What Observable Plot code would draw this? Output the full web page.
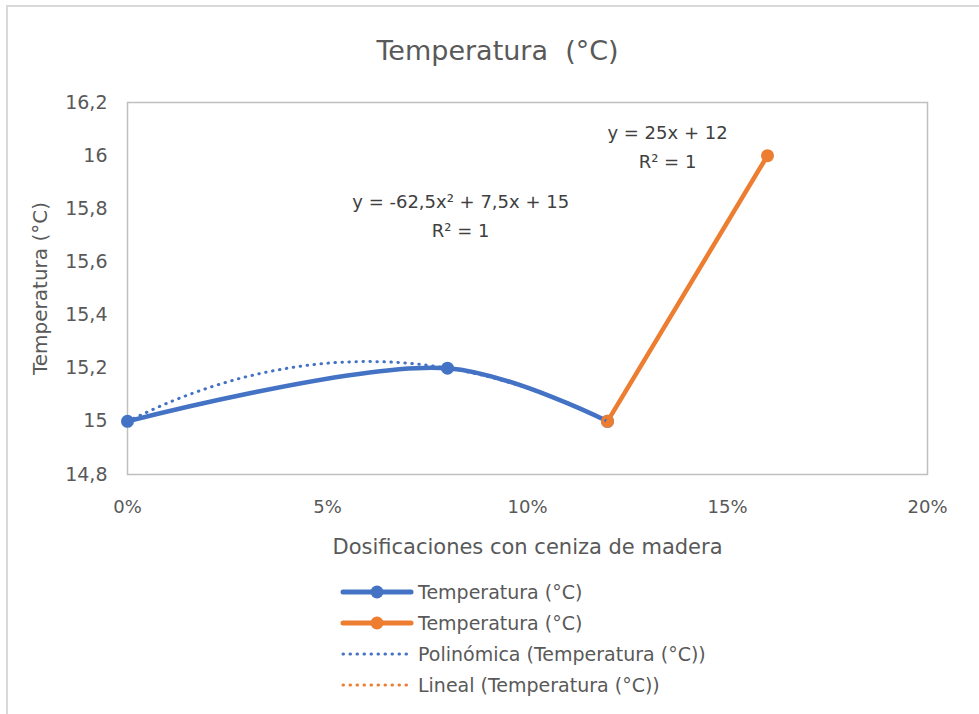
<!DOCTYPE html>
<html>
<head>
<meta charset="utf-8">
<script src="https://cdn.jsdelivr.net/npm/d3@7"></script>
<script src="https://cdn.jsdelivr.net/npm/@observablehq/plot@0.6"></script>
<style>
  html, body { margin: 0; padding: 0; background: #fff; }
  #wrap { position: relative; width: 979px; height: 714px; overflow: hidden; font-family: "DejaVu Sans", sans-serif; }
  #border { position: absolute; left: 6px; top: 5px; width: 1000px; height: 800px; border-top: 2px solid #d9d9d9; border-left: 2px solid #d9d9d9; }
  #chart { position: absolute; left: 0; top: 0; }
  #legend { position: absolute; left: 340px; top: 576px; }
  .row { display: flex; align-items: center; height: 31px; }
  .row span { font-size: 19px; color: #595959; margin-left: 4px; white-space: nowrap; }
</style>
</head>
<body>
<div id="wrap">
  <div id="border"></div>
  <div id="chart"></div>
  <div id="legend"></div>
</div>
<script>
// ---- data ----
const doses = [0, 0.08, 0.12];
const temps = [15, 15.2, 15];
const doses2 = [0.12, 0.16];
const temps2 = [15, 16];
// polynomial trendline points
const polyDoses = [0, 0.01, 0.02, 0.03, 0.04, 0.05, 0.06, 0.07, 0.08, 0.09, 0.10, 0.11, 0.12];
const polyTemps = [15, 15.069, 15.125, 15.169, 15.2, 15.219, 15.225, 15.219, 15.2, 15.169, 15.125, 15.069, 15];
// linear trendline endpoints
const linDoses = [0.12, 0.16];
const linTemps = [15, 16];

const xTicks = [0, 0.05, 0.10, 0.15, 0.20];
const xTickLabels = ["0%", "5%", "10%", "15%", "20%"];
const yTicks = [14.8, 15, 15.2, 15.4, 15.6, 15.8, 16, 16.2];
const yTickLabels = ["14,8", "15", "15,2", "15,4", "15,6", "15,8", "16", "16,2"];

const chartTitle = "Temperatura  (°C)";
const xTitle = "Dosificaciones con ceniza de madera";
const yTitle = "Temperatura (°C)";
const polyEq = "y = -62,5x² + 7,5x + 15\nR² = 1";
const linEq = "y = 25x + 12\nR² = 1";
const seriesNames = ["Temperatura (°C)", "Temperatura (°C)", "Polinómica (Temperatura (°C))", "Lineal (Temperatura (°C))"];

const blue = "#4472C4";
const orange = "#ED7D31";

const s1 = doses.map((d, i) => ({x: d, y: temps[i]}));
const s2 = doses2.map((d, i) => ({x: d, y: temps2[i]}));
const poly = polyDoses.map((d, i) => ({x: d, y: polyTemps[i]}));
const lin = linDoses.map((d, i) => ({x: d, y: linTemps[i]}));

const chart = Plot.plot({
  width: 979,
  height: 570,
  marginLeft: 127,
  marginRight: 52,
  marginTop: 102,
  marginBottom: 96,
  style: {fontFamily: "'DejaVu Sans', sans-serif", background: "transparent"},
  x: {domain: [0, 0.2]},
  y: {domain: [14.8, 16.2]},
  marks: [
    Plot.frame({stroke: "#bfbfbf", strokeWidth: 1.5}),
    Plot.axisX({ticks: xTicks, tickFormat: (d) => xTickLabels[xTicks.findIndex(t => Math.abs(t - d) < 1e-9)], tickSize: 0, tickPadding: 26, fontSize: 18, color: "#595959", label: null}),
    Plot.axisY({ticks: yTicks, tickFormat: (d) => yTickLabels[yTicks.findIndex(t => Math.abs(t - d) < 1e-9)], tickSize: 0, tickPadding: 20, fontSize: 19, color: "#595959", label: null}),
    Plot.text([chartTitle], {frameAnchor: "top", dy: -62, dx: -30, fontSize: 27, fill: "#595959", letterSpacing: "1.3px"}),
    Plot.text([xTitle], {frameAnchor: "bottom", dy: 79, fontSize: 21, fill: "#595959"}),
    Plot.text([yTitle], {frameAnchor: "left", textAnchor: "middle", dx: -87, rotate: -90, fontSize: 20, fill: "#595959"}),
    Plot.line(s1, {x: "x", y: "y", stroke: blue, strokeWidth: 4.5, curve: "catmull-rom"}),
    Plot.dot(s1, {x: "x", y: "y", r: 6.5, fill: blue}),
    Plot.line(s2, {x: "x", y: "y", stroke: orange, strokeWidth: 4.5}),
    Plot.dot(s2, {x: "x", y: "y", r: 6.5, fill: orange}),
    Plot.line(poly, {x: "x", y: "y", stroke: blue, strokeWidth: 3, strokeDasharray: "0.5,6.5", strokeLinecap: "round", curve: "catmull-rom"}),
    Plot.line(lin, {x: "x", y: "y", stroke: orange, strokeWidth: 3, strokeDasharray: "0.5,6.5", strokeLinecap: "round"}),
    Plot.text([polyEq], {x: 0.0833, y: 15.782, fontSize: 18, fill: "#404040", lineHeight: 1.6}),
    Plot.text([linEq], {x: 0.135, y: 16.042, fontSize: 18, fill: "#404040", lineHeight: 1.6})
  ]
});
document.getElementById("chart").appendChild(chart);

// legend
const legendStyles = [
  {color: blue, dash: null, marker: true, width: 5},
  {color: orange, dash: null, marker: true, width: 5},
  {color: blue, dash: "0.5,6.5", marker: false, width: 3},
  {color: orange, dash: "0.5,6.5", marker: false, width: 3}
];
const legend = document.getElementById("legend");
seriesNames.forEach((name, i) => {
  const st = legendStyles[i];
  const row = document.createElement("div");
  row.className = "row";
  const svg = d3.create("svg").attr("width", 74).attr("height", 20);
  svg.append("line").attr("x1", 3).attr("x2", 71).attr("y1", 10).attr("y2", 10)
    .attr("stroke", st.color).attr("stroke-width", st.width).attr("stroke-linecap", "round")
    .attr("stroke-dasharray", st.dash);
  if (st.marker) svg.append("circle").attr("cx", 37).attr("cy", 10).attr("r", 6.5).attr("fill", st.color);
  row.appendChild(svg.node());
  const sp = document.createElement("span");
  sp.textContent = name;
  row.appendChild(sp);
  legend.appendChild(row);
});
</script>
</body>
</html>
